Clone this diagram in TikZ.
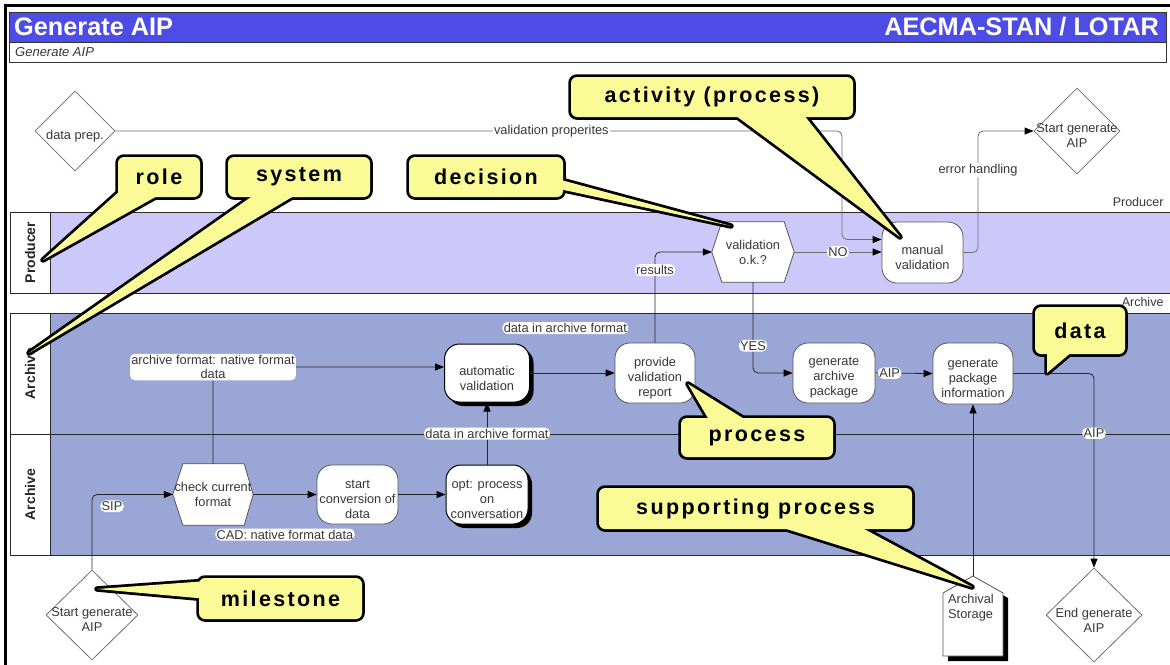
\documentclass[tikz,border=0pt]{standalone}
\usepackage{fontspec}
\setmainfont{Liberation Sans}
\newfontfamily\callfont{Liberation Sans}[LetterSpace=11]
\usetikzlibrary{shapes.geometric,shadows,calc,arrows.meta}

\definecolor{titleblue}{RGB}{77,77,230}
\definecolor{prodlane}{RGB}{205,200,250}
\definecolor{archlane}{RGB}{153,166,214}
\definecolor{callyellow}{RGB}{250,250,150}
\definecolor{txtgray}{RGB}{55,55,55}
\definecolor{linegray}{RGB}{110,110,110}
\definecolor{boxborder}{RGB}{85,85,85}
\definecolor{laneline}{RGB}{40,40,40}

\begin{document}
\begin{tikzpicture}[x=1pt,y=-1pt,
  txt/.style={font=\fontsize{12.8}{15}\selectfont, text=txtgray, align=center, inner sep=0pt},
  lbl/.style={font=\fontsize{12.8}{14.5}\selectfont, text=txtgray, fill=white, inner sep=1.3pt, align=center},
  procbox/.style={draw=boxborder, fill=white, rounded corners=15pt, minimum width=80pt,
    minimum height=60pt, line width=0.8pt, inner sep=0pt},
  procshadow/.style={procbox, draw=black, line width=1pt,
    drop shadow={shadow xshift=4pt, shadow yshift=-4pt, fill=black, opacity=1}},
  hexbox/.style={txt, minimum width=82pt, minimum height=60pt},
  hexline/.style={draw=boxborder, fill=white, line width=0.8pt},
  mstone/.style={diamond, draw=linegray, fill=white, inner sep=0pt, line width=0.8pt},
  conn/.style={draw=black!85, line width=0.8pt, rounded corners=5pt},
  arr/.style={conn, -{Triangle[length=9pt,width=7pt,color=black]}},
  garr/.style={arr, draw=linegray},
  lanelabel/.style={font=\bfseries\fontsize{14}{16}\selectfont, text=black!85, rotate=90},
  sidelabel/.style={font=\fontsize{12.5}{14}\selectfont, text=txtgray, anchor=east},
  cedge/.style={draw=black, line width=5.5pt, line join=round},
  cframe/.style={draw=black, line width=5.5pt, fill=callyellow, rounded corners=6pt, inner sep=0pt},
  cbox/.style={fill=callyellow, rounded corners=6pt, inner sep=0pt,
    font=\callfont\bfseries\fontsize{21.5}{24}\selectfont, text=black}
]
\useasboundingbox (0,0) rectangle (1170,664);
\clip (0,0) rectangle (1170,664);
\fill[white] (0,0) rectangle (1170,664);

% outer frame
\draw[line width=2.5pt, black] (5.5,680) -- (5.5,5.5) -- (1180,5.5);

% title and subtitle bars
\draw[fill=titleblue, draw=black!80, line width=1pt] (9,12) rectangle (1166,42);
\draw[fill=white, draw=black!80, line width=1pt] (9,42) rectangle (1166,62);
\node[anchor=west, text=white, font=\bfseries\fontsize{25.3}{28}\selectfont, inner sep=0pt] (title) at (14,27) {Generate AIP};
\node[anchor=east, text=white, font=\bfseries\fontsize{25.3}{28}\selectfont, inner sep=0pt] (org) at (1159,27) {AECMA-STAN / LOTAR};
\node[anchor=west, text=txtgray, font=\itshape\fontsize{13}{15}\selectfont, inner sep=0pt] (subtitle) at (15,52) {Generate AIP};

% swimlanes
\fill[prodlane] (50,212) rectangle (1180,293);
\fill[archlane] (50,313) rectangle (1180,555);
\fill[white] (10,212) rectangle (50,293);
\fill[white] (10,313) rectangle (50,555);
\draw[laneline, line width=0.9pt] (10,212) -- (1180,212) (10,293) -- (1180,293)
  (10,313) -- (1180,313) (10,434) -- (1180,434) (10,555) -- (1180,555)
  (10,212) -- (10,293) (50,212) -- (50,293)
  (10,313) -- (10,555) (50,313) -- (50,555);
\node[lanelabel] (lane-prod) at (30,252.5) {Producer};
\node[lanelabel] (lane-arch1) at (30,373.5) {Archive};
\node[lanelabel] (lane-arch2) at (30,494.5) {Archive};
\node[sidelabel] (side-prod) at (1167,202) {Producer};
\node[sidelabel] (side-arch) at (1167,302) {Archive};

% milestones
\node[mstone, minimum width=80pt, minimum height=80pt,
  label={[txt,yshift=-5pt]center:data prep.}] (dp) at (75,131) {};
\node[mstone, minimum width=86pt, minimum height=86pt,
  label={[txt,yshift=-5pt]center:Start generate\\AIP}] (sg2) at (1077,131) {};
\node[mstone, minimum width=92pt, minimum height=90pt,
  label={[txt,yshift=-5pt]center:Start generate\\AIP}] (sg1) at (92,615) {};
\node[mstone, minimum width=96pt, minimum height=94pt,
  label={[txt,yshift=-5pt]center:End generate\\AIP}] (eg) at (1094,615) {};

% decisions (hexagons)
\node[hexbox] (vok) at (753,252) {};
\draw[hexline] (vok.west) -- ($(vok.north west)+(10,0)$) -- ($(vok.north east)+(-10,0)$)
  -- (vok.east) -- ($(vok.south east)+(-10,0)$) -- ($(vok.south west)+(10,0)$) -- cycle;
\node[txt] (vok-t) at (vok) {validation\\o.k.?};
\node[hexbox, minimum width=80pt, minimum height=61pt] (ccf) at (213,494.5) {};
\draw[hexline] (ccf.west) -- ($(ccf.north west)+(10,0)$) -- ($(ccf.north east)+(-9,0)$)
  -- (ccf.east) -- ($(ccf.south east)+(-9,0)$) -- ($(ccf.south west)+(10,0)$) -- cycle;
\node[txt] (ccf-t) at (ccf) {check current\\format};

% processes
\node[procbox, minimum width=81pt, minimum height=61pt,
  label={[txt,yshift=-5pt]center:manual\\validation}] (mv) at (922.5,252.5) {};
\node[procshadow, minimum width=85pt, minimum height=58pt,
  label={[txt,yshift=-5pt]center:automatic\\validation}] (av) at (487,373) {};
\node[procbox, label={[txt,yshift=-5pt]center:provide\\validation\\report}] (pvr) at (655,373) {};
\node[procbox, minimum width=82pt,
  label={[txt,yshift=-5pt]center:generate\\archive\\package}] (gap) at (834,373) {};
\node[procbox, minimum height=61pt,
  label={[txt,yshift=-5pt]center:generate\\package\\information}] (gpi) at (973,373.5) {};
\node[procbox, minimum width=81pt, minimum height=59pt,
  label={[txt,yshift=-5pt]center:start\\conversion of\\data}] (scd) at (357.5,494.5) {};
\node[procshadow, minimum width=82pt, minimum height=59pt,
  label={[txt,yshift=-5pt]center:opt: process\\on\\conversation}] (opt) at (487,494.5) {};

% supporting process: archival storage
\coordinate (astop) at (973,576);
\fill[black] (948,598) -- (978,581) -- (1008,598) -- (1008,661) -- (948,661) -- cycle;
\draw[hexline] (943,593) -- (astop) -- (1003,593) -- (1003,656) -- (943,656) -- cycle;
\node[txt, align=left, anchor=north west] (as) at (948,594) {Archival\\Storage};

% connectors
\coordinate (vpx) at (842,0);
\coordinate (mvin) at ($(mv.west)+(0,-13)$);
\draw[garr] (dp.east) -| node[lbl, pos=0.3]{validation properites} (vpx |- mvin) -- (mvin);
\draw[garr] (vok.east) -- node[lbl]{NO} (vok.east -| mv.west);
\coordinate (ehx) at (978,0);
\draw[garr] (mv.east) -| node[lbl, pos=0.84]{error handling} (ehx |- sg2.west) -- (sg2.west);
\draw[arr] (pvr.north) |- node[lbl, pos=0.4]{results} (vok.west);
\draw[arr] (vok.south) |- node[lbl, pos=0.35]{YES} (gap.west);
\draw[arr] (av.east) -- node[lbl, yshift=45pt, xshift=-7pt]{data in archive format} (pvr.west);
\draw[arr] (gap.east) -- node[lbl, pos=0.25]{AIP} (gpi.west);
\draw[arr] (gpi.east) -| node[lbl, pos=0.654]{AIP} (eg.north);
\draw[arr] (astop) -- (gpi.south);
\draw[arr] (ccf.north) |- node[lbl, pos=0.5]{archive format: native format\\data} ([yshift=6pt]av.west);
\draw[arr] (opt.north) -- node[lbl]{data in archive format} (av.south);
\draw[arr] (sg1.north) |- node[lbl, pos=0.5, anchor=north west, xshift=8pt, yshift=-5.5pt]{SIP} (ccf.west);
\draw[arr] (ccf.east) -- node[lbl, yshift=-40pt]{CAD: native format data} (scd.west);
\draw[arr] (scd.east) -- (opt.west);

% callouts
% role
\draw[cedge] (121,190) -- (43,260) -- (168,190);
\node[cframe, minimum width=82pt, minimum height=40pt] (role-f) at (159,177) {};
\fill[callyellow] (121,190) -- (43,260) -- (168,190) -- cycle;
\node[cbox, minimum width=82pt, minimum height=40pt] (role) at (159,177) {role};
% system
\draw[cedge] (261,190) -- (29,353) -- (304,190);
\node[cframe, minimum width=142pt, minimum height=40pt] (system-f) at (299,177) {};
\fill[callyellow] (261,190) -- (29,353) -- (304,190) -- cycle;
\node[cbox, minimum width=142pt, minimum height=40pt] (system) at (299,177) {system};
% decision
\draw[cedge] (550,177) -- (731,226) -- (550,187);
\node[cframe, minimum width=154pt, minimum height=40pt] (decision-f) at (486,177) {};
\fill[callyellow] (550,177) -- (731,226) -- (550,187) -- cycle;
\node[cbox, minimum width=154pt, minimum height=40pt] (decision) at (486,177) {decision};
% activity
\draw[cedge] (728,110) -- (900,237) -- (800,110);
\node[cframe, minimum width=282pt, minimum height=40pt] (activity-f) at (712,97) {};
\fill[callyellow] (728,110) -- (900,237) -- (800,110) -- cycle;
\node[cbox, minimum width=282pt, minimum height=40pt] (activity) at (712,97) {activity (process)};
% process
\draw[cedge] (712,425) -- (688,384) -- (754,425);
\node[cframe, minimum width=152pt, minimum height=39pt] (process-f) at (757,437.5) {};
\fill[callyellow] (712,425) -- (688,384) -- (754,425) -- cycle;
\node[cbox, minimum width=152pt, minimum height=39pt] (process) at (757,437.5) {process};
% supporting process
\draw[cedge] (764,522) -- (972,587) -- (851,522);
\node[cframe, minimum width=313pt, minimum height=41pt] (support-f) at (755.5,508.5) {};
\fill[callyellow] (764,522) -- (972,587) -- (851,522) -- cycle;
\node[cbox, minimum width=313pt, minimum height=41pt] (support) at (755.5,508.5) {supporting process};
% milestone
\draw[cedge] (208,581) -- (97,589) -- (208,599);
\node[cframe, minimum width=163pt, minimum height=41pt] (milestone-f) at (280.5,598.5) {};
\fill[callyellow] (208,581) -- (97,589) -- (208,599) -- cycle;
\node[cbox, minimum width=163pt, minimum height=41pt] (milestone) at (280.5,598.5) {milestone};
% data
\draw[cedge] (1047,345) -- (1047,373) -- (1080,345);
\node[cframe, minimum width=90pt, minimum height=47pt] (data-f) at (1080,330.5) {};
\fill[callyellow] (1047,345) -- (1047,373) -- (1080,345) -- cycle;
\node[cbox, minimum width=90pt, minimum height=47pt] (data) at (1080,330.5) {data};
\end{tikzpicture}
\end{document}
